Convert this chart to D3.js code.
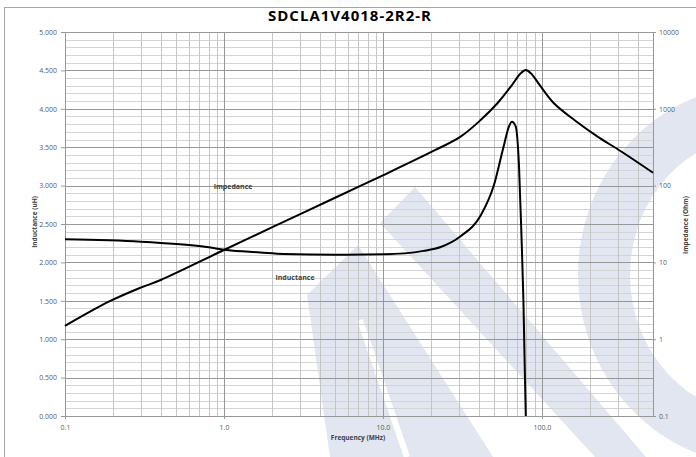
<!DOCTYPE html>
<html>
<head>
<meta charset="utf-8">
<script src="https://cdn.jsdelivr.net/npm/d3@7"></script>
<style>
body { margin: 0; background: #fff; }
text { font-family: "Open Sans", sans-serif; }
</style>
</head>
<body>
<div id="chart"></div>
<script>
// SDCLA1V4018-2R2-R : inductance (left, linear) and impedance (right, log) vs frequency
var freqZ = [0.1, 0.19, 0.3, 0.4, 1.0, 2.0, 5.0, 10, 21.4, 30.8, 41.2, 52.5, 63.7, 73.6, 79.2, 85.2, 98.5, 119, 160, 224, 314, 500];
var impedance = [1.49, 3.1, 4.7, 5.9, 14.5, 28.5, 69.5, 136, 291, 434, 714, 1180, 1940, 2900, 3200, 2900, 1940, 1180, 714, 434, 280, 147];

var freqL = [0.1, 0.3, 0.5, 0.78, 1.04, 1.69, 2.37, 5, 10.1, 18, 23.1, 30.8, 41.2, 50, 57.3, 62.1, 64.7, 68.4, 71.8, 74.3, 76.5, 78, 79.2];
var inductance = [2.30, 2.27, 2.24, 2.20, 2.16, 2.13, 2.11, 2.10, 2.105, 2.15, 2.20, 2.34, 2.61, 3.01, 3.5, 3.77, 3.83, 3.77, 3.25, 2.38, 1.51, 0.64, 0.0];

var xTicks = [0.1, 1, 10, 100];
var xTickLabels = ["0.1", "1.0", "10.0", "100.0"];
var leftTicks = [0, 0.5, 1, 1.5, 2, 2.5, 3, 3.5, 4, 4.5, 5];
var rightTicks = [0.1, 1, 10, 100, 1000, 10000];
var rightTickLabels = ["0.1", "1", "10", "100", "1000", "10000"];

var width = 696, height = 457;
var plot = { left: 65, right: 653, top: 32, bottom: 416 };

var svg = d3.select("#chart").append("svg")
    .attr("width", width)
    .attr("height", height);

svg.append("rect").attr("width", width).attr("height", height).attr("fill", "#fff");

// watermark in the background
var wm = svg.append("g").attr("fill", "#e1e6f0");
wm.append("polygon").attr("points", "307,295 358,245 493,457 330,457");
wm.append("polygon").attr("points", "380,223 415,187 646,457 595,457");
wm.append("path")
    .attr("fill-rule", "evenodd")
    .attr("d", "M578,275 a182,190 0 1,0 364,0 a182,190 0 1,0 -364,0 " +
        "M630,275 a130,140 0 1,0 260,0 a130,140 0 1,0 -260,0");
wm.append("line").attr("x1", 360).attr("y1", 320).attr("x2", 407).attr("y2", 457)
    .attr("stroke", "#fff").attr("stroke-width", 6);

// chart border
svg.append("rect")
    .attr("x", 4.5).attr("y", 7.5)
    .attr("width", 720).attr("height", 480)
    .attr("fill", "none").attr("stroke", "#a6a6a6");

var x = d3.scaleLog().domain([0.1, 500]).range([plot.left, plot.right]);
var yL = d3.scaleLinear().domain([0, 5]).range([plot.bottom, plot.top]);
var yR = d3.scaleLog().domain([0.1, 10000]).range([plot.bottom, plot.top]);

// grid
var grid = svg.append("g");
var vMinor = [], vMajor = [];
[0.1, 1, 10, 100].forEach(function (d) {
    for (var k = 1; k <= 9; k++) {
        var v = d * k;
        if (v > 500) break;
        if (k == 1) vMajor.push(v); else vMinor.push(v);
    }
});
var hMinor = d3.range(0, 51).map(function (i) { return i / 10; }).filter(function (v, i) { return i % 5 != 0; });

grid.selectAll(".hmin").data(hMinor).enter().append("line")
    .attr("x1", plot.left).attr("x2", plot.right)
    .attr("y1", function (d) { return Math.round(yL(d)) + 0.5; })
    .attr("y2", function (d) { return Math.round(yL(d)) + 0.5; })
    .attr("stroke", "#d4d4d4");
grid.selectAll(".vmin").data(vMinor).enter().append("line")
    .attr("y1", plot.top).attr("y2", plot.bottom)
    .attr("x1", function (d) { return Math.round(x(d)) + 0.5; })
    .attr("x2", function (d) { return Math.round(x(d)) + 0.5; })
    .attr("stroke", "#c4c4c4");
grid.selectAll(".hmaj").data(leftTicks).enter().append("line")
    .attr("x1", plot.left).attr("x2", plot.right)
    .attr("y1", function (d) { return Math.round(yL(d)) + 0.5; })
    .attr("y2", function (d) { return Math.round(yL(d)) + 0.5; })
    .attr("stroke", "#979797");
grid.selectAll(".vmaj").data(vMajor).enter().append("line")
    .attr("y1", plot.top).attr("y2", plot.bottom)
    .attr("x1", function (d) { return Math.round(x(d)) + 0.5; })
    .attr("x2", function (d) { return Math.round(x(d)) + 0.5; })
    .attr("stroke", "#979797");

svg.append("rect")
    .attr("x", plot.left + 0.5).attr("y", plot.top + 0.5)
    .attr("width", plot.right - plot.left).attr("height", plot.bottom - plot.top)
    .attr("fill", "none").attr("stroke", "#979797");

// axes
function styleAxis(g) {
    g.select(".domain").remove();
    g.selectAll(".tick line").attr("stroke", "#979797");
    g.selectAll(".tick text").attr("fill", "#595959").attr("font-size", "7px")
        .style("font-family", "'Open Sans', sans-serif");
}

svg.append("g")
    .attr("transform", "translate(" + plot.left + ",0)")
    .call(d3.axisLeft(yL).tickValues(leftTicks).tickFormat(d3.format(".3f")).tickSize(4).tickPadding(4))
    .call(styleAxis);

svg.append("g")
    .attr("transform", "translate(" + plot.right + ",0)")
    .call(d3.axisRight(yR).tickValues(rightTicks).tickFormat(function (d, i) { return rightTickLabels[i]; }).tickSize(3).tickPadding(3))
    .call(styleAxis);

svg.append("g")
    .attr("transform", "translate(0," + plot.bottom + ")")
    .call(d3.axisBottom(x).tickValues(xTicks).tickFormat(function (d, i) { return xTickLabels[i]; }).tickSize(3).tickPadding(6))
    .call(styleAxis);

// curves
var lineZ = d3.line()
    .x(function (d) { return x(d[0]); })
    .y(function (d) { return yR(d[1]); })
    .curve(d3.curveCatmullRom.alpha(0.5));
var lineL = d3.line()
    .x(function (d) { return x(d[0]); })
    .y(function (d) { return yL(d[1]); })
    .curve(d3.curveMonotoneX);

svg.append("path")
    .datum(d3.zip(freqZ, impedance))
    .attr("d", lineZ)
    .attr("fill", "none").attr("stroke", "#000").attr("stroke-width", 2);

svg.append("path")
    .datum(d3.zip(freqL, inductance))
    .attr("d", lineL)
    .attr("fill", "none").attr("stroke", "#000").attr("stroke-width", 2);

// texts
svg.append("text")
    .attr("x", 350).attr("y", 20.5)
    .attr("text-anchor", "middle")
    .attr("font-size", "15px").attr("font-weight", "bold")
    .attr("letter-spacing", "1px")
    .attr("fill", "#000")
    .text("SDCLA1V4018-2R2-R");

svg.append("text")
    .attr("transform", "translate(37,222) rotate(-90)")
    .attr("text-anchor", "middle")
    .attr("font-size", "6.5px").attr("font-weight", "bold")
    .attr("fill", "#404040")
    .text("Inductance (uH)");

svg.append("text")
    .attr("transform", "translate(688,225) rotate(-90)")
    .attr("text-anchor", "middle")
    .attr("font-size", "6.5px").attr("font-weight", "bold")
    .attr("fill", "#404040")
    .text("Impedance (Ohm)");

svg.append("text")
    .attr("x", 358).attr("y", 439.5)
    .attr("text-anchor", "middle")
    .attr("font-size", "6.5px").attr("font-weight", "bold")
    .attr("fill", "#404040")
    .text("Frequency (MHz)");

svg.append("text")
    .attr("x", 233).attr("y", 188.5)
    .attr("text-anchor", "middle")
    .attr("font-size", "7px").attr("font-weight", "bold")
    .attr("fill", "#404040")
    .text("Impedance");

svg.append("text")
    .attr("x", 295).attr("y", 279.5)
    .attr("text-anchor", "middle")
    .attr("font-size", "7px").attr("font-weight", "bold")
    .attr("fill", "#404040")
    .text("Inductance");
</script>
</body>
</html>
